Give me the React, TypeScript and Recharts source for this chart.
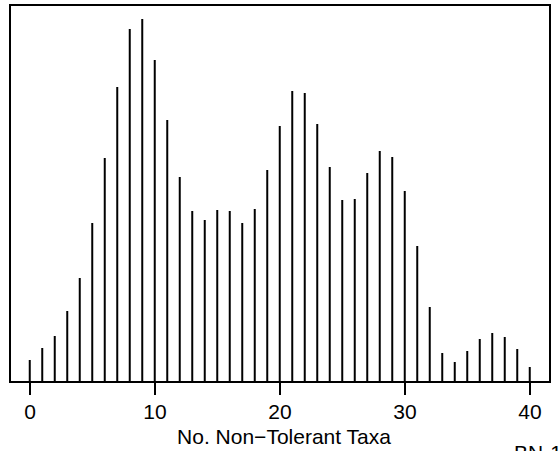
import { Bar, ComposedChart, Label, ReferenceArea, XAxis, YAxis } from "recharts"

// number of non-tolerant taxa (x) and relative frequency (bar height)
const taxa = [
  0, 1, 2, 3, 4, 5, 6, 7, 8, 9, 10, 11, 12, 13, 14, 15, 16, 17, 18, 19, 20,
  21, 22, 23, 24, 25, 26, 27, 28, 29, 30, 31, 32, 33, 34, 35, 36, 37, 38, 39, 40,
]
const freq = [
  2.2, 3.4, 4.6, 7.1, 10.4, 15.9, 22.4, 29.5, 35.3, 36.3, 32.2, 26.2, 20.5, 17.1,
  16.2, 17.2, 17.1, 15.9, 17.3, 21.2, 25.6, 29.1, 28.9, 25.8, 21.5, 18.2, 18.3,
  20.9, 23.1, 22.5, 19.1, 13.6, 7.5, 2.9, 2.0, 3.1, 4.3, 4.9, 4.5, 3.3, 1.5,
]
const xTicks = [0, 10, 20, 30, 40]
const xDomain: [number, number] = [-1.6, 41.6]
const yDomain: [number, number] = [0, 37.7]

const font = "'Liberation Sans', Arial, sans-serif"

export default function App() {
  const data = taxa.map((x, i) => ({ x, y: freq[i] }))

  return (
    <div style={{ position: "absolute", left: 0, top: 0, fontFamily: font }}>
      <ComposedChart
        width={559}
        height={451}
        data={data}
        margin={{ top: 5, right: 9, left: 10, bottom: 0 }}
      >
        <XAxis
          dataKey="x"
          type="number"
          domain={xDomain}
          ticks={xTicks}
          allowDataOverflow
          height={69}
          tickSize={13}
          tickMargin={9}
          axisLine={{ stroke: "#000", strokeWidth: 2 }}
          tickLine={{ stroke: "#000", strokeWidth: 2 }}
          tick={{ fontSize: 21, fill: "#000", fontFamily: font }}
        >
          <Label
            value="No. Non−Tolerant Taxa"
            position="insideBottom"
            offset={7}
            dx={4}
            style={{ fontSize: 21, fill: "#000", fontFamily: font }}
          />
          <Label
            content={(props: any) => {
              const vb = props.viewBox || {}
              return (
                <text
                  x={vb.x + vb.width - 36}
                  y={vb.y + vb.height + 9}
                  fontSize={21}
                  fontFamily={font}
                  fill="#000"
                >
                  BN-1
                </text>
              )
            }}
          />
        </XAxis>
        <YAxis type="number" domain={yDomain} hide />
        <ReferenceArea
          x1={xDomain[0]}
          x2={xDomain[1]}
          y1={yDomain[0]}
          y2={yDomain[1]}
          fill="none"
          stroke="#000"
          strokeWidth={2}
        />
        <Bar dataKey="y" fill="#000" barSize={2} isAnimationActive={false} />
      </ComposedChart>
    </div>
  )
}
